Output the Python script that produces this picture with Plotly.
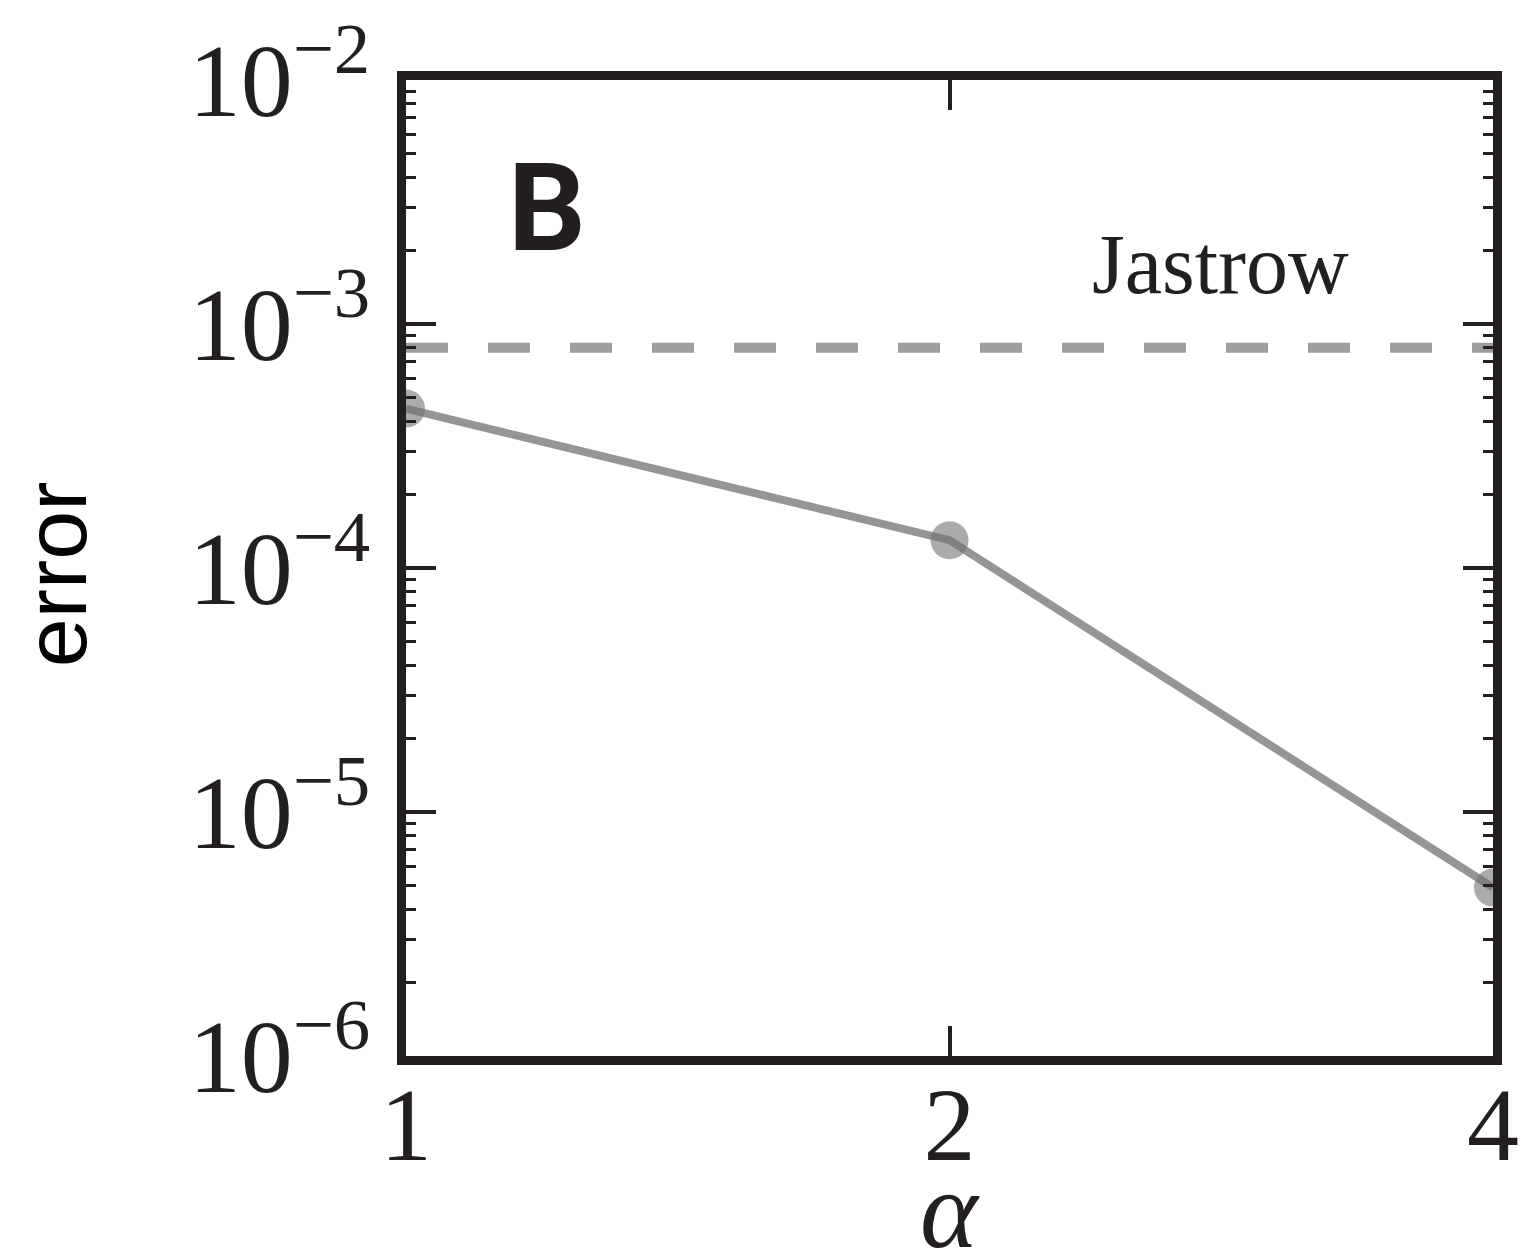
import plotly.graph_objects as go

# Data
alpha = [1, 2, 4]
error = [4.5e-4, 1.3e-4, 4.9e-6]
jastrow_error = 8.0e-4
jastrow_x = [1, 4]

# Tick labels
y_tickvals = [1e-6, 1e-5, 1e-4, 1e-3, 1e-2]
y_ticktext = ["10<sup>\u22126</sup>", "10<sup>\u22125</sup>", "10<sup>\u22124</sup>",
              "10<sup>\u22123</sup>", "10<sup>\u22122</sup>"]
x_tickvals = [1, 2, 4]
x_ticktext = ["1", "2", "4"]
y_minor = [m * 10.0 ** e for e in range(-6, -2) for m in range(2, 10)]

AX = "#231f20"
SERIF = "Liberation Serif, Times New Roman, serif"
SANS = "Liberation Sans, Arial, sans-serif"

fig = go.Figure()
fig.add_trace(go.Scatter(
    x=jastrow_x, y=[jastrow_error, jastrow_error], mode="lines",
    line=dict(color="#9d9d9d", width=10, dash="42px,40px"),
    showlegend=False, hoverinfo="skip"))
fig.add_trace(go.Scatter(
    x=alpha, y=error, mode="lines+markers",
    line=dict(color="#959595", width=8),
    marker=dict(size=38, color="rgba(115,115,115,0.6)", line=dict(width=0)),
    showlegend=False))

fig.update_layout(
    width=1533, height=1258,
    margin=dict(l=398, r=48, t=72, b=210, autoexpand=False),
    paper_bgcolor="white", plot_bgcolor="white",
    xaxis=dict(
        type="log", range=[0, 0.60206], tickmode="array",
        tickvals=x_tickvals, ticktext=x_ticktext,
        ticks="inside", ticklen=30, tickwidth=4, tickcolor=AX,
        showline=True, linewidth=9, linecolor=AX, mirror="allticks",
        showgrid=False, zeroline=False, automargin=False,
        ticklabeloverflow="allow",
        tickfont=dict(family=SERIF, size=104, color=AX),
    ),
    yaxis=dict(
        type="log", range=[-6, -2], tickmode="array",
        tickvals=y_tickvals, ticktext=y_ticktext,
        ticks="inside", ticklen=30, tickwidth=4, tickcolor=AX,
        showline=True, linewidth=9, linecolor=AX, mirror="allticks",
        showgrid=False, zeroline=False, automargin=False,
        ticklabeloverflow="allow",
        tickfont=dict(family=SERIF, size=104, color=AX),
        ticklabelstandoff=6,
        minor=dict(tickmode="array", tickvals=y_minor, ticks="inside",
                   ticklen=10, tickwidth=3, tickcolor=AX, showgrid=False),
    ),
    annotations=[
        dict(text="error", xref="paper", yref="paper", x=-0.3225, y=0.494,
             xanchor="center", yanchor="middle", textangle=-90, showarrow=False,
             font=dict(family=SANS, size=88, color="black")),
        dict(text="<i>\u03b1</i>", xref="paper", yref="paper", x=0.5, y=-0.158,
             xanchor="center", yanchor="middle", showarrow=False,
             font=dict(family=SERIF, size=110, color=AX)),
        dict(text="<b>B</b>", xref="paper", yref="paper", x=0.130, y=0.868,
             xanchor="center", yanchor="middle", showarrow=False,
             font=dict(family="Roboto, Liberation Sans, Arial, sans-serif", size=122, color=AX)),
        dict(text="Jastrow", xref="paper", yref="paper", x=0.749, y=0.811,
             xanchor="center", yanchor="middle", showarrow=False,
             font=dict(family=SERIF, size=84, color=AX)),
    ],
)

try:
    fig.update_xaxes(ticklabelstandoff=-30)
except ValueError:
    fig.update_xaxes(ticklabelstandoff=0)

fig.write_html("out.html")
